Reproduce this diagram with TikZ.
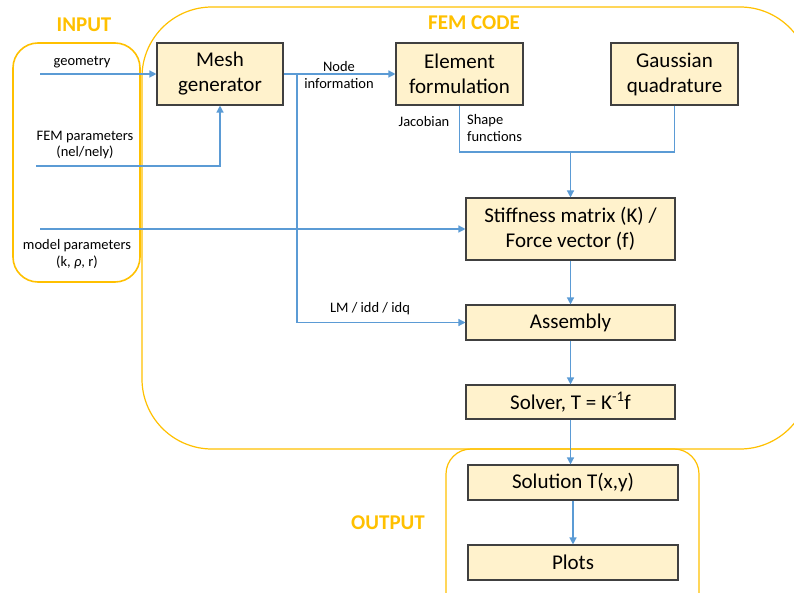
\documentclass[tikz,border=0pt]{standalone}
\usepackage{fontspec}
\setmainfont{Carlito}
\usetikzlibrary{arrows.meta}
\definecolor{fcorange}{HTML}{FFC000}
\definecolor{fcblue}{HTML}{5B9BD5}
\definecolor{fcfill}{HTML}{FFF2CC}
\definecolor{fcedge}{HTML}{404040}
\tikzset{
  procbox/.style={draw=fcedge, line width=1.1pt, fill=fcfill, inner sep=0pt, align=center, font=\fontsize{21}{25}\selectfont},
  grouprect/.style={draw=fcorange, line width=1.2pt},
  grouplabel/.style={text=fcorange, font=\fontsize{21}{24}\selectfont\bfseries, inner sep=0pt},
  smalllabel/.style={font=\fontsize{14.5}{16.5}\selectfont, inner sep=0pt, align=center},
  conn/.style={draw=fcblue, line width=1.3pt},
  arr/.style={conn, -{Triangle[length=7pt,width=7pt]}}
}
\begin{document}
\begin{tikzpicture}[x=1pt,y=-1pt]
\useasboundingbox (0,0) rectangle (794,593);
\clip (0,0) rectangle (794,593);
% group frames
\draw[grouprect, rounded corners=70pt] (142,7) rectangle (810,449);
\draw[grouprect, line width=1.6pt, rounded corners=25pt] (13,43) rectangle (140,282);
\draw[grouprect, rounded corners=25pt] (446,449) rectangle (699,640);
\node[grouplabel] (tin) at (84,25) {INPUT};
\node[grouplabel] (tfem) at (474,23) {FEM CODE};
\node[grouplabel] (tout) at (388,523) {OUTPUT};
% process boxes
\node[procbox, minimum width=126pt, minimum height=62pt] (mesh) at (220,74) {Mesh\\generator};
\node[procbox, minimum width=127pt, minimum height=62pt] (elem) at (459.5,74) {Element\\formulation};
\node[procbox, minimum width=127pt, minimum height=62pt] (gauss) at (674.5,74) {Gaussian\\quadrature};
\node[procbox, minimum width=209pt, minimum height=62pt] (stiff) at (570.5,229) {Stiffness matrix (K) /\\Force vector (f)};
\node[procbox, minimum width=209pt, minimum height=35pt] (asm) at (570.5,322.5) {Assembly};
\node[procbox, minimum width=209pt, minimum height=34pt] (solver) at (570.5,402) {Solver, T = K\textsuperscript{-1}f};
\node[procbox, minimum width=210pt, minimum height=35pt] (sol) at (573,482.5) {Solution T(x,y)};
\node[procbox, minimum width=210pt, minimum height=35pt] (plots) at (573,562.5) {Plots};
% free ends
\coordinate (gin) at (40,74);
\coordinate (fin) at (36,166);
\coordinate (min) at (40,229);
\coordinate (br) at (297,74);
\coordinate (jn) at (570.5,152);
% connectors
\draw[arr] (gin) -- (mesh.west);
\draw[arr] (fin) -| (mesh.south);
\draw[arr] (min) -- (stiff.west);
\draw[arr] (mesh.east) -- (elem.west);
\draw[arr] (br) |- (asm.west);
\draw[conn] (elem.south) |- (jn);
\draw[conn] (gauss.south) |- (jn);
\draw[arr] (jn) -- (stiff.north);
\draw[arr] (stiff.south) -- (asm.north);
\draw[arr] (asm.south) -- (solver.north);
\draw[arr] (solver.south) -- (solver.south |- sol.north);
\draw[arr] (sol.south) -- (plots.north);
% labels
\node[smalllabel] (lgeo) at (82,62) {geometry};
\node[smalllabel] (lfem) at (85,145) {FEM parameters\\(nel/nely)};
\node[smalllabel] (lmod) at (77,254) {model parameters\\(k, \textit{ρ}, r)};
\node[smalllabel] (lnode) at (339,75) {Node\\information};
\node[smalllabel] (llm) at (370,309) {LM / idd / idq};
\node[smalllabel] (ljac) at (424,122) {Jacobian};
\node[smalllabel, anchor=west, align=left] (lshape) at (467,128) {Shape\\functions};
\end{tikzpicture}
\end{document}
